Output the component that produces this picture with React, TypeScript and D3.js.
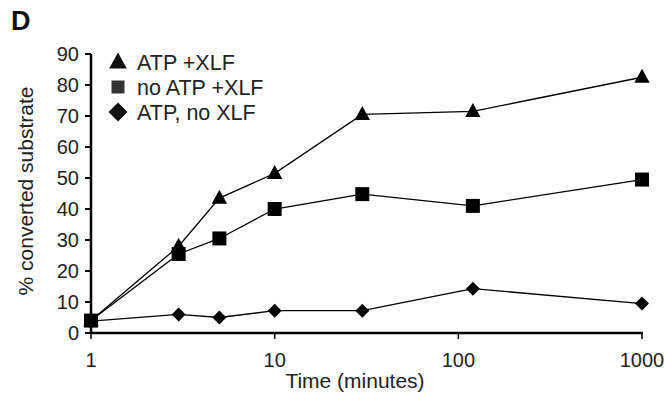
import React from "react";
import * as d3 from "d3";

const times = [1, 3, 5, 10, 30, 120, 1000];
const atpXlf = [4, 28, 43.5, 51.5, 70.5, 71.5, 82.5];
const noAtpXlf = [4, 25.5, 30.5, 40, 44.8, 41, 49.5];
const atpNoXlf = [3.8, 6, 5, 7.2, 7.2, 14.3, 9.5];
const yTicks = [0, 10, 20, 30, 40, 50, 60, 70, 80, 90];
const xTicks = [1, 10, 100, 1000];
const legendLabels = ["ATP +XLF", "no ATP +XLF", "ATP, no XLF"];

const W = 664, H = 397;
const font = "'Liberation Sans', Arial, sans-serif";

export default function App() {
  const x = d3.scaleLog().domain([1, 1000]).range([91, 642]);
  const y = d3.scaleLinear().domain([0, 90]).range([333, 54]);
  const line = d3.line<number>().x((_, i) => x(times[i])).y((d) => y(d));

  const tri = (cx: number, cy: number, s: number) =>
    `M${cx},${cy - s * 0.6}L${cx + s * 0.55},${cy + s * 0.4}L${cx - s * 0.55},${cy + s * 0.4}Z`;
  const sq = (cx: number, cy: number, s: number) =>
    `M${cx - s / 2},${cy - s / 2}h${s}v${s}h${-s}Z`;
  const dia = (cx: number, cy: number, s: number) =>
    `M${cx},${cy - s / 2}L${cx + s / 2},${cy}L${cx},${cy + s / 2}L${cx - s / 2},${cy}Z`;

  const series = [
    { vals: atpNoXlf, shape: dia, size: 14 },
    { vals: noAtpXlf, shape: sq, size: 14 },
    { vals: atpXlf, shape: tri, size: 14 },
  ];

  const legend = [
    { label: legendLabels[0], shape: tri, size: 16, fill: "#111" },
    { label: legendLabels[1], shape: sq, size: 13, fill: "#333" },
    { label: legendLabels[2], shape: dia, size: 19, fill: "#111" },
  ];

  return (
    <svg width={W} height={H} style={{ position: "absolute", left: 0, top: 0, background: "#fff" }} fontFamily={font}>
      <rect width={W} height={H} fill="#fff" />
      <text x={11} y={30} fontSize={27} fontWeight="bold" fill="#111">D</text>
      {series.map((s, k) => (
        <g key={k}>
          <path d={line(s.vals) || ""} fill="none" stroke="#000" strokeWidth={1.3} />
          {s.vals.map((v, i) => (
            <path key={i} d={s.shape(x(times[i]), y(v), s.size)} fill="#000" />
          ))}
        </g>
      ))}
      {/* axes */}
      <line x1={91} x2={91} y1={y(90)} y2={y(0) + 1} stroke="#000" strokeWidth={2.5} />
      <line x1={90} x2={643} y1={y(0)} y2={y(0)} stroke="#000" strokeWidth={2.5} />
      {yTicks.map((t) => (
        <g key={t}>
          <line x1={85} x2={91} y1={y(t)} y2={y(t)} stroke="#000" strokeWidth={2} />
          <text x={79} y={y(t)} dy="0.36em" textAnchor="end" fontSize={20} fill="#222">{t}</text>
        </g>
      ))}
      {xTicks.map((t) => (
        <g key={t}>
          <line x1={x(t)} x2={x(t)} y1={y(0)} y2={y(0) + 6} stroke="#000" strokeWidth={1.5} />
          <text x={x(t)} y={367} textAnchor="middle" fontSize={20} fill="#222">{t}</text>
        </g>
      ))}
      <text x={355} y={388} textAnchor="middle" fontSize={21} fill="#222">Time (minutes)</text>
      <text transform={`translate(33,191) rotate(-90)`} textAnchor="middle" fontSize={21} fill="#222">% converted substrate</text>
      {legend.map((l, i) => (
        <g key={i}>
          <path d={l.shape(118, 62 + i * 25, l.size)} fill={l.fill} />
          <text x={137} y={70 + i * 25} fontSize={21.5} fill="#222">{l.label}</text>
        </g>
      ))}
    </svg>
  );
}
